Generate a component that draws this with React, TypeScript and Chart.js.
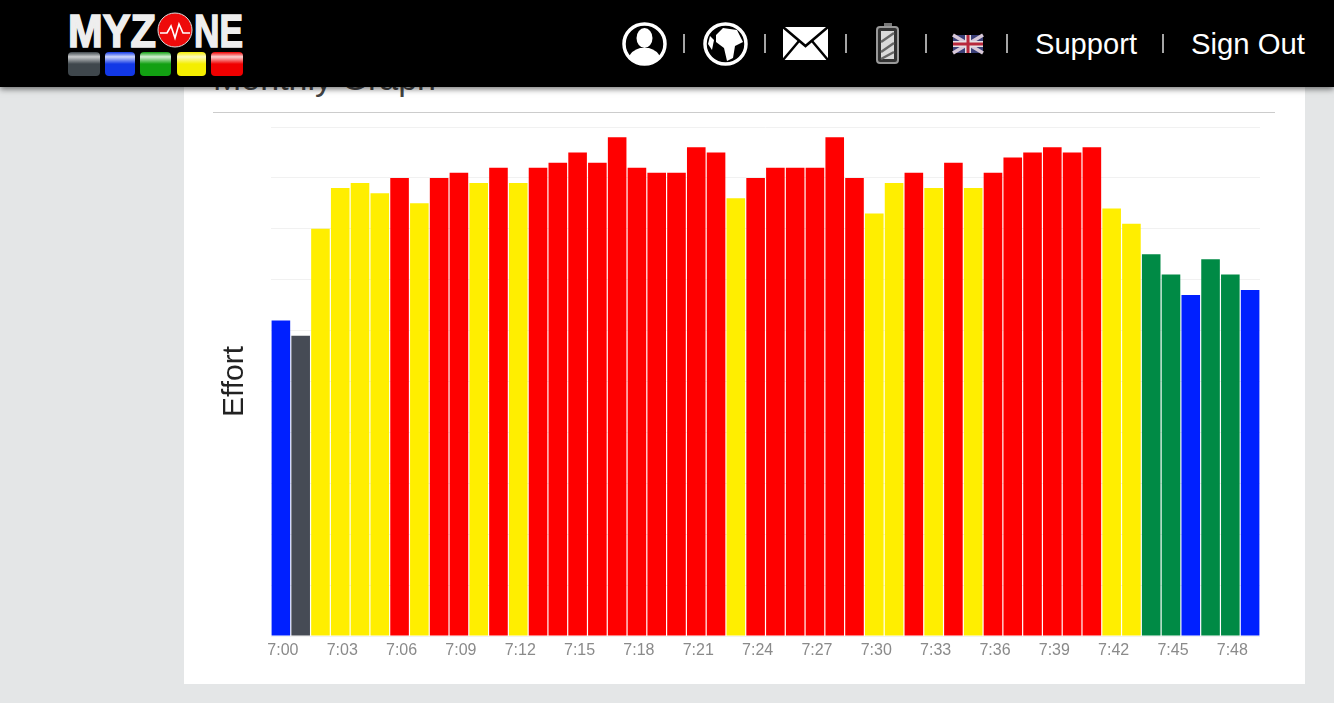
import React, { useEffect, useRef } from "react";
import { Chart, registerables } from "chart.js";

Chart.register(...registerables);

const minutes = [
  "7:00","7:01","7:02","7:03","7:04","7:05","7:06","7:07","7:08","7:09",
  "7:10","7:11","7:12","7:13","7:14","7:15","7:16","7:17","7:18","7:19",
  "7:20","7:21","7:22","7:23","7:24","7:25","7:26","7:27","7:28","7:29",
  "7:30","7:31","7:32","7:33","7:34","7:35","7:36","7:37","7:38","7:39",
  "7:40","7:41","7:42","7:43","7:44","7:45","7:46","7:47","7:48","7:49",
];
const effort = [
  62, 59, 80, 88, 89, 87, 90, 85, 90, 91,
  89, 92, 89, 92, 93, 95, 93, 98, 92, 91,
  91, 96, 95, 86, 90, 92, 92, 92, 98, 90,
  83, 89, 91, 88, 93, 88, 91, 94, 95, 96,
  95, 96, 84, 81, 75, 71, 67, 74, 71, 68,
];
const zones = [
  "blue", "gray", "yellow", "yellow", "yellow", "yellow", "red", "yellow", "red", "red",
  "yellow", "red", "yellow", "red", "red", "red", "red", "red", "red", "red",
  "red", "red", "red", "yellow", "red", "red", "red", "red", "red", "red",
  "yellow", "yellow", "red", "yellow", "red", "yellow", "red", "red", "red", "red",
  "red", "red", "yellow", "yellow", "green", "green", "blue", "green", "green", "blue",
];
const zoneColors: Record<string, string> = {
  blue: "#0020ff",
  gray: "#464b55",
  yellow: "#ffee00",
  red: "#ff0000",
  green: "#008a45",
};
const yTicks = { min: 0, max: 100, step: 10 };
const font = '"Liberation Sans", Arial, sans-serif';

const abs = (left: number, top: number, width: number, height: number): React.CSSProperties => ({
  position: "absolute", left, top, width, height,
});

function Header() {
  const blocks: [number, number, string, string][] = [
    [68, 32, "#3f474c", "#c9cccd"],
    [105, 30, "#1238e6", "#cdd6fb"],
    [140, 31, "#12a012", "#d5f0d5"],
    [177, 29, "#f4ee00", "#fdfbc0"],
    [211, 32, "#f00000", "#fcd0d0"],
  ];
  const seps = [684, 765, 846, 926, 1007, 1163];
  const letter = (x: number, w: number, t: string) => (
    <text x={x} y={47} textLength={w} lengthAdjust="spacingAndGlyphs" fontFamily={font} fontWeight="bold" fontSize={47} fill="#eee" stroke="#eee" strokeWidth={1.6}>{t}</text>
  );
  return (
    <div style={{ ...abs(0, 0, 1334, 87), background: "#000", boxShadow: "0 2px 6px rgba(0,0,0,0.55)", zIndex: 5 }}>
      <svg width={1334} height={87} style={{ position: "absolute", left: 0, top: 0 }}>
        <defs>
          {blocks.map((b, i) => (
            <linearGradient key={i} id={"lg" + i} x1="0" y1="0" x2="0" y2="1">
              <stop offset="0" stopColor={b[2]} />
              <stop offset="0.2" stopColor={b[3]} />
              <stop offset="0.5" stopColor={b[2]} />
              <stop offset="1" stopColor={b[2]} />
            </linearGradient>
          ))}
        </defs>
        {letter(68, 88, "MYZ")}
        <ellipse cx={175} cy={30} rx={17} ry={17} fill="#ee0a0a" stroke="#ddd" strokeWidth={1} />
        <polyline points="160,33 167,33 171,26 175,38 179,24 183,33 190,33" fill="none" stroke="#fff" strokeWidth={1.6} />
        {letter(194, 49, "NE")}
        {blocks.map((b, i) => (
          <rect key={i} x={b[0]} y={52} width={b[1]} height={24} rx={4} fill={`url(#lg${i})`} />
        ))}

        <ellipse cx={644.5} cy={44} rx={20.5} ry={20} fill="#000" stroke="#fff" strokeWidth={3.5} />
        <ellipse cx={644.5} cy={38} rx={8} ry={10} fill="#fff" />
        <path d="M628 58 Q632 50 640 48 L649 48 Q657 50 661 58 Q645 70 628 58Z" fill="#fff" />

        <ellipse cx={725.5} cy={44} rx={20.5} ry={20} fill="#000" stroke="#fff" strokeWidth={3.5} />
        <path d="M723 28 L737 30 L743 42 L735 46 L733 58 L727 61 L724 48 L716 42 L716 35Z" fill="#fff" />
        <path d="M710 36 L714 40 L712 50 L708 44Z" fill="#fff" />

        <rect x={783} y={27} width={45} height={33} fill="#fff" />
        <path d="M783 27 L805.5 46 L828 27" fill="none" stroke="#000" strokeWidth={2.5} />
        <path d="M783 60 L799 41 M828 60 L812 41" fill="none" stroke="#000" strokeWidth={2.5} />

        <rect x={884} y={23} width={8} height={4} fill="#777" />
        <rect x={877} y={27} width={21} height={36} rx={3} fill="#333" stroke="#999" strokeWidth={2} />
        <rect x={881} y={31} width={13} height={28} fill="#d9d9d9" />
        <path d="M881 42 L894 33 M881 52 L894 43 M881 59 L894 52" stroke="#666" strokeWidth={2.5} />

        <rect x={953} y={35} width={30} height={18} fill="#3a3f78" />
        <path d="M953 35 L983 53 M983 35 L953 53" stroke="#d8c8d8" strokeWidth={3.5} />
        <path d="M968 35 V53 M953 44 H983" stroke="#e4e0e4" strokeWidth={6} />
        <path d="M968 35 V53 M953 44 H983" stroke="#b8283c" strokeWidth={3} />

        {seps.map((x) => (
          <line key={x} x1={x} x2={x} y1={34} y2={53} stroke="#ddd" strokeWidth={1.5} />
        ))}
        <text x={1035} y={54} textLength={102} lengthAdjust="spacingAndGlyphs" fontFamily={font} fontSize={29} fill="#fff">Support</text>
        <text x={1191} y={54} textLength={114} lengthAdjust="spacingAndGlyphs" fontFamily={font} fontSize={29} fill="#fff">Sign Out</text>
      </svg>
    </div>
  );
}

export default function App() {
  const ref = useRef<HTMLCanvasElement | null>(null);

  useEffect(() => {
    if (!ref.current) return;
    const chart = new Chart(ref.current, {
      type: "bar",
      data: {
        labels: minutes,
        datasets: [
          {
            label: "Effort",
            data: effort,
            backgroundColor: zones.map((z) => zoneColors[z]),
            categoryPercentage: 1,
            barPercentage: 0.94,
          },
        ],
      },
      options: {
        responsive: false,
        animation: false,
        devicePixelRatio: 1,
        layout: { padding: { top: 7, right: 2, bottom: 0, left: 0 } },
        plugins: { legend: { display: false }, tooltip: { enabled: false }, title: { display: false } },
        scales: {
          x: {
            grid: { display: false },
            border: { display: false },
            ticks: {
              autoSkip: false,
              maxRotation: 0,
              minRotation: 0,
              padding: -3,
              labelOffset: 2,
              color: "#8a8a8a",
              font: { family: font, size: 16 },
              callback: (_v: any, i: number) => (i % 3 === 0 ? minutes[i] : ""),
            },
            afterFit: (s: any) => { s.height = 34; },
          },
          y: {
            min: yTicks.min,
            max: yTicks.max,
            grid: { color: "#f1f1f1", drawTicks: false },
            border: { display: false },
            ticks: { display: false, stepSize: yTicks.step },
            title: {
              display: true,
              text: "Effort",
              color: "#222",
              font: { family: font, size: 30 },
              padding: { top: 4, bottom: 0 },
            },
            afterFit: (s: any) => { s.width = 58; },
          },
        },
      },
    });
    return () => chart.destroy();
  }, []);

  return (
    <div style={{ position: "fixed", inset: 0, overflow: "hidden", background: "#e4e6e7", fontFamily: font }}>
      <div style={{ ...abs(184, 0, 1121, 684), background: "#fff" }} />
      <div style={{ ...abs(213, 58, 400, 40), fontSize: 34, lineHeight: "40px", color: "#444" }}>Monthly Graph</div>
      <div style={{ ...abs(213, 112, 1062, 1), background: "#cccccc" }} />
      <canvas ref={ref} width={1049} height={550} style={{ ...abs(213, 120, 1049, 550), display: "block" }} />
      <Header />
    </div>
  );
}
